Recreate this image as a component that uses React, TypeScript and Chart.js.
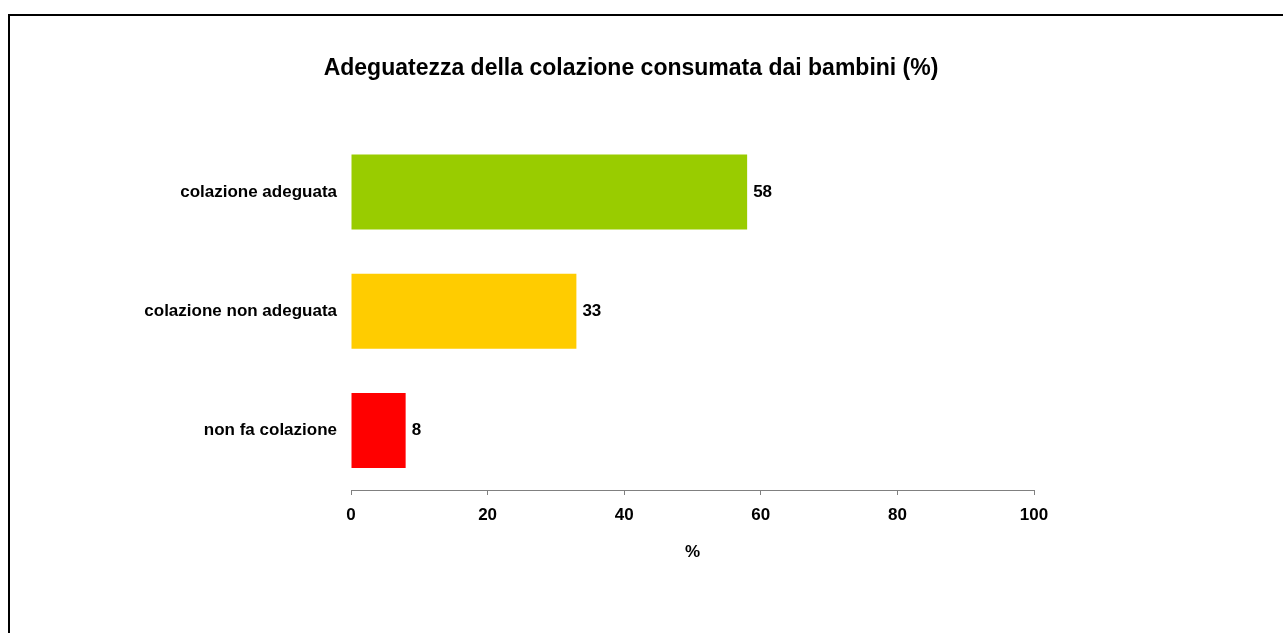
import React, { useEffect, useRef } from "react";
import { Chart, registerables } from "chart.js";

Chart.register(...registerables);

const TITLE = "Adeguatezza della colazione consumata dai bambini (%)";
const categories = ["colazione adeguata", "colazione non adeguata", "non fa colazione"];
const values = [58, 33, 8];
const barColors = ["#99CC00", "#FFCC00", "#FF0000"];
const xTicks = [0, 20, 40, 60, 80, 100];
const xTitle = "%";

const FONT = "'Liberation Sans', Arial, Helvetica, sans-serif";

const titlePlugin = {
  id: "customTitle",
  afterDraw(chart: any) {
    const ctx = chart.ctx;
    ctx.save();
    ctx.font = `bold 23px ${FONT}`;
    ctx.fillStyle = "#000";
    ctx.textAlign = "center";
    ctx.textBaseline = "middle";
    ctx.fillText(TITLE, chart.width / 2, 53);
    ctx.restore();
  },
};

const valueLabels = {
  id: "valueLabels",
  afterDatasetsDraw(chart: any) {
    const ctx = chart.ctx;
    const meta = chart.getDatasetMeta(0);
    ctx.save();
    ctx.font = `bold 17px ${FONT}`;
    ctx.fillStyle = "#000";
    ctx.textAlign = "left";
    ctx.textBaseline = "middle";
    meta.data.forEach((bar: any, i: number) => {
      ctx.fillText(String(values[i]), bar.x + 6, bar.y);
    });
    ctx.restore();
  },
};

export default function App() {
  const ref = useRef<HTMLCanvasElement | null>(null);

  useEffect(() => {
    if (!ref.current) return;
    const chart = new Chart(ref.current, {
      type: "bar",
      data: {
        labels: categories,
        datasets: [
          {
            data: values,
            backgroundColor: barColors,
            borderWidth: 0,
            categoryPercentage: 1,
            barPercentage: 0.63,
          },
        ],
      },
      options: {
        indexAxis: "y",
        responsive: false,
        animation: false,
        devicePixelRatio: 1,
        layout: { padding: { left: 0, right: 218, top: 116.5, bottom: 63 } },
        plugins: {
          legend: { display: false },
          tooltip: { enabled: false },
          title: { display: false },
        },
        scales: {
          x: {
            min: 0,
            max: 100,
            afterBuildTicks: (scale: any) => {
              scale.ticks = xTicks.map((v) => ({ value: v }));
            },
            afterFit: (scale: any) => {
              scale.height = 73;
            },
            border: { display: true, color: "#808080", width: 1 },
            grid: {
              display: true,
              drawOnChartArea: false,
              drawTicks: true,
              tickLength: 5,
              color: "#808080",
            },
            ticks: {
              color: "#000",
              font: { family: FONT, size: 17, weight: "bold" },
              padding: 10,
              maxRotation: 0,
            },
            title: {
              display: true,
              text: xTitle,
              color: "#000",
              font: { family: FONT, size: 17, weight: "bold" },
              padding: { top: 0, bottom: 0 },
            },
          },
          y: {
            afterFit: (scale: any) => {
              scale.width = 341;
            },
            border: { display: false },
            grid: { display: false, drawTicks: false },
            ticks: {
              color: "#000",
              font: { family: FONT, size: 17, weight: "bold" },
              padding: 14,
            },
          },
        },
      },
      plugins: [titlePlugin, valueLabels],
    } as any);
    return () => chart.destroy();
  }, []);

  return (
    <div
      style={{
        position: "fixed",
        left: 8,
        top: 14,
        width: 1275,
        height: 619,
        overflow: "hidden",
        background: "#fff",
      }}
    >
      <div
        style={{
          border: "2px solid #000",
          width: 1400,
          height: 700,
          boxSizing: "border-box",
          position: "relative",
        }}
      >
        <canvas
          ref={ref}
          width={1242}
          height={610}
          style={{ position: "absolute", left: 0, top: 0, width: 1242, height: 610 }}
        />
      </div>
    </div>
  );
}
